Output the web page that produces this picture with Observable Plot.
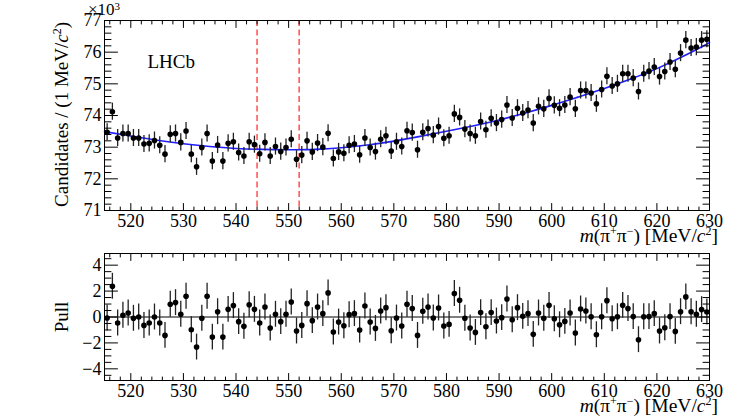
<!DOCTYPE html>
<html><head><meta charset="utf-8">
<script src="https://cdn.jsdelivr.net/npm/d3@7"></script>
<script src="https://cdn.jsdelivr.net/npm/@observablehq/plot@0.6"></script>
<style>
body{margin:0;background:#fff;}
#chart{width:747px;height:417px;position:relative;background:#fff;}
#chart svg{display:block;}
</style></head><body><div id="chart"></div>
<script>
// bin centres, MeV/c^2
const massBins = [
 515.5,516.5,517.5,518.5,519.5,520.5,521.5,522.5,523.5,524.5,
 525.5,526.5,527.5,528.5,529.5,530.5,531.5,532.5,533.5,534.5,
 535.5,536.5,537.5,538.5,539.5,540.5,541.5,542.5,543.5,544.5,
 545.5,546.5,547.5,548.5,549.5,550.5,551.5,552.5,553.5,554.5,
 555.5,556.5,557.5,558.5,559.5,560.5,561.5,562.5,563.5,564.5,
 565.5,566.5,567.5,568.5,569.5,570.5,571.5,572.5,573.5,574.5,
 575.5,576.5,577.5,578.5,579.5,580.5,581.5,582.5,583.5,584.5,
 585.5,586.5,587.5,588.5,589.5,590.5,591.5,592.5,593.5,594.5,
 595.5,596.5,597.5,598.5,599.5,600.5,601.5,602.5,603.5,604.5,
 605.5,606.5,607.5,608.5,609.5,610.5,611.5,612.5,613.5,614.5,
 615.5,616.5,617.5,618.5,619.5,620.5,621.5,622.5,623.5,624.5,
 625.5,626.5,627.5,628.5,629.5
];
// candidates per bin, in units of 10^3
const candidates = [
 73.47,74.12,73.29,73.43,73.43,73.29,73.29,73.10,73.12,73.21,
 73.06,72.78,73.41,73.43,73.15,73.51,72.78,72.38,72.99,73.43,
 72.56,73.07,72.56,73.12,73.17,72.83,72.72,73.17,73.08,72.79,
 73.15,72.72,73.02,72.86,72.99,73.25,72.62,72.75,73.20,72.85,
 73.13,73.00,73.44,72.64,72.85,72.81,73.06,73.10,72.76,73.29,
 72.99,72.86,73.25,73.36,72.88,73.17,73.02,73.52,73.46,72.92,
 73.47,73.59,73.38,73.65,73.28,73.36,74.05,73.94,73.57,73.43,
 73.36,73.81,73.55,73.91,73.76,73.87,74.33,73.92,74.23,74.08,
 74.17,73.76,74.29,74.21,74.54,74.32,74.23,74.33,74.58,74.21,
 74.79,74.79,74.71,74.37,74.82,75.24,74.93,75.00,75.32,75.32,
 75.18,74.76,75.32,75.40,75.53,75.23,75.39,75.69,75.46,75.97,
 76.38,76.13,76.16,76.38,76.41
];
const pulls = [
 -0.08,2.37,-0.46,0.13,0.31,-0.10,0.00,-0.65,-0.46,0.00,
 -0.46,-1.42,0.98,1.11,0.21,1.60,-0.98,-2.32,-0.10,1.60,
 -1.55,0.41,-1.55,0.59,0.88,-0.36,-0.72,0.95,0.59,-0.46,
 0.77,-0.85,0.21,-0.36,0.21,1.16,-1.08,-0.65,1.03,-0.28,
 0.77,0.26,1.86,-1.16,-0.39,-0.67,0.18,0.26,-1.00,0.85,
 -0.39,-0.88,0.46,0.72,-1.06,-0.08,-0.70,0.98,0.65,-1.42,
 0.44,0.77,-0.08,0.70,-0.70,-0.57,1.81,1.29,-0.10,-0.85,
 -1.19,0.34,-0.75,0.34,-0.31,-0.05,1.39,-0.21,0.72,0.05,
 0.26,-1.34,0.31,-0.10,0.90,-0.13,-0.60,-0.34,0.31,-1.24,
 0.62,0.46,0.02,-1.37,0.02,1.26,-0.13,0.02,0.90,0.65,
 0.03,-1.75,0.02,0.03,0.26,-1.08,-0.83,0.03,-1.11,0.41,
 1.55,0.41,0.21,0.57,0.39
];
// fitted curve
const fitMass   = [515,520,525,530,535,540,545,550,555,560,565,570,575,580,585,590,595,600,605,610,615,620,625,630];
const fitValues = [73.49,73.35,73.22,73.11,73.02,72.96,72.93,72.92,72.93,72.98,73.07,73.19,73.34,73.50,73.67,73.86,74.08,74.32,74.58,74.85,75.15,75.48,75.87,76.30];
const signalWindow = [544, 552];
const countErr = 0.27;   // ±(10^3)
const pullErr = 1;

const xMajorTicks = [520,530,540,550,560,570,580,590,600,610,620,630];
const xMinorTicks = [516,518,522,524,526,528,532,534,536,538,542,544,546,548,552,554,556,558,562,564,566,568,572,574,576,578,582,584,586,588,592,594,596,598,602,604,606,608,612,614,616,618,622,624,626,628];
const yTopMajor = [71,72,73,74,75,76,77];
const yTopMinor = [71.2,71.4,71.6,71.8,72.2,72.4,72.6,72.8,73.2,73.4,73.6,73.8,74.2,74.4,74.6,74.8,75.2,75.4,75.6,75.8,76.2,76.4,76.6,76.8];
const yPullMajor = [-4,-2,0,2,4];
const yPullMinor = [-4.5,-3.5,-3,-2.5,-1.5,-1,-0.5,0.5,1,1.5,2.5,3,3.5,4.5];

const rows = massBins.map((m, i) => ({m, n: candidates[i], p: pulls[i]}));
const fitRows = fitMass.map((m, i) => ({m, f: fitValues[i]}));

const FONT = "'Liberation Serif','DejaVu Serif','Times New Roman',serif";
const tickShape = {draw(ctx, l) { ctx.moveTo(0, 0); ctx.lineTo(0, -l); }};
function xTicks(values, len) {
  return [
    Plot.vector(values, {x: d => d, frameAnchor: "bottom", rotate: 0, length: len, anchor: "start", shape: tickShape, stroke: "black", strokeWidth: 1}),
    Plot.vector(values, {x: d => d, frameAnchor: "top", rotate: 180, length: len, anchor: "start", shape: tickShape, stroke: "black", strokeWidth: 1})
  ];
}
function yTicks(values, len) {
  return [
    Plot.vector(values, {y: d => d, frameAnchor: "left", rotate: 90, length: len, anchor: "start", shape: tickShape, stroke: "black", strokeWidth: 1}),
    Plot.vector(values, {y: d => d, frameAnchor: "right", rotate: -90, length: len, anchor: "start", shape: tickShape, stroke: "black", strokeWidth: 1})
  ];
}
const style = {fontFamily: FONT, fontSize: "18px", color: "black", background: "white", overflow: "visible"};

const topPlot = Plot.plot({
  width: 747, height: 245,
  marginLeft: 104, marginRight: 38, marginTop: 20, marginBottom: 35,
  x: {domain: [515, 630]},
  y: {domain: [71, 77]},
  style,
  marks: [
    Plot.ruleX(signalWindow, {x: d => d, stroke: "#ff5a5a", strokeWidth: 1.6, strokeDasharray: "6,3.5"}),
    Plot.line(fitRows, {x: "m", y: "f", curve: "natural", stroke: "#1f1fff", strokeWidth: 1.6}),
    Plot.ruleX(rows, {x: "m", y1: d => d.n - countErr, y2: d => d.n + countErr, stroke: "#222", strokeWidth: 1.3}),
    Plot.dot(rows, {x: "m", y: "n", r: 2.8, fill: "black"}),
    ...xTicks(xMajorTicks, 7), ...xTicks(xMinorTicks, 3.5),
    ...yTicks(yTopMajor, 13), ...yTicks(yTopMinor, 6.5),
    Plot.axisX({ticks: xMajorTicks, tickSize: 0, tickPadding: 4, label: null, tickFormat: d => String(d)}),
    Plot.axisY({ticks: yTopMajor, tickSize: 0, tickPadding: 3, label: null, tickFormat: d => String(d)}),
    Plot.frame({stroke: "black", strokeWidth: 1}),
    Plot.text(["LHCb"], {frameAnchor: "top-left", dx: 43, dy: 41, lineAnchor: "middle", textAnchor: "start", fontSize: 19})
  ]
});

const pullPlot = Plot.plot({
  width: 747, height: 172,
  marginLeft: 104, marginRight: 38, marginTop: 8, marginBottom: 37,
  x: {domain: [515, 630]},
  y: {domain: [-4.9, 4.9]},
  style,
  marks: [
    Plot.ruleY([0], {stroke: "black", strokeWidth: 1.2}),
    Plot.ruleX(rows, {x: "m", y1: d => d.p - pullErr, y2: d => d.p + pullErr, stroke: "#222", strokeWidth: 1.3}),
    Plot.dot(rows, {x: "m", y: "p", r: 2.8, fill: "black"}),
    ...xTicks(xMajorTicks, 7), ...xTicks(xMinorTicks, 3.5),
    ...yTicks(yPullMajor, 13), ...yTicks(yPullMinor, 6.5),
    Plot.axisX({ticks: xMajorTicks, tickSize: 0, tickPadding: 4, label: null, tickFormat: d => String(d)}),
    Plot.axisY({ticks: yPullMajor, tickSize: 0, tickPadding: 3, label: null, tickFormat: d => d < 0 ? "\u2212" + Math.abs(d) : String(d)}),
    Plot.frame({stroke: "black", strokeWidth: 1})
  ]
});

function massTitle(svg, plot, baseline) {
  const x = plot.scale("x").apply(630) + 9;
  const t = d3.select(svg).append("text")
    .attr("x", x).attr("y", baseline).attr("text-anchor", "end")
    .attr("font-family", FONT).attr("font-size", 19.5).attr("fill", "black");
  t.append("tspan").attr("font-style", "italic").text("m");
  t.append("tspan").text("(π");
  t.append("tspan").attr("font-size", 12).attr("dy", -7).text("+");
  t.append("tspan").attr("dy", 7).text("π");
  t.append("tspan").attr("font-size", 12).attr("dy", -7).text("−");
  t.append("tspan").attr("dy", 7).text(") [MeV/");
  t.append("tspan").attr("font-style", "italic").text("c");
  t.append("tspan").attr("font-size", 12).attr("dy", -7).text("2");
  t.append("tspan").attr("dy", 7).text("]");
}
function yTitle(svg, x, y, anchor, build) {
  const t = d3.select(svg).append("text")
    .attr("transform", `translate(${x},${y}) rotate(-90)`)
    .attr("text-anchor", anchor)
    .attr("font-family", FONT).attr("font-size", 19).attr("fill", "black");
  build(t);
}
massTitle(topPlot, topPlot, 242);
massTitle(pullPlot, pullPlot, 167);
yTitle(topPlot, 68, 22, "end", t => {
  t.append("tspan").text("Candidates / (1 MeV/");
  t.append("tspan").attr("font-style", "italic").text("c");
  t.append("tspan").attr("font-size", 12).attr("dy", -7).text("2");
  t.append("tspan").attr("dy", 7).text(")");
});
yTitle(pullPlot, 68, 72, "middle", t => t.text("Pull"));
// exponent label above the y axis
{
  const t = d3.select(topPlot).append("text")
    .attr("x", topPlot.scale("x").apply(515)).attr("y", 15)
    .attr("font-family", FONT).attr("font-size", 17).attr("fill", "black");
  t.append("tspan").text("×10");
  t.append("tspan").attr("font-size", 11).attr("dy", -5).text("3");
}

const chart = document.getElementById("chart");
chart.appendChild(topPlot);
chart.appendChild(pullPlot);
</script></body></html>
